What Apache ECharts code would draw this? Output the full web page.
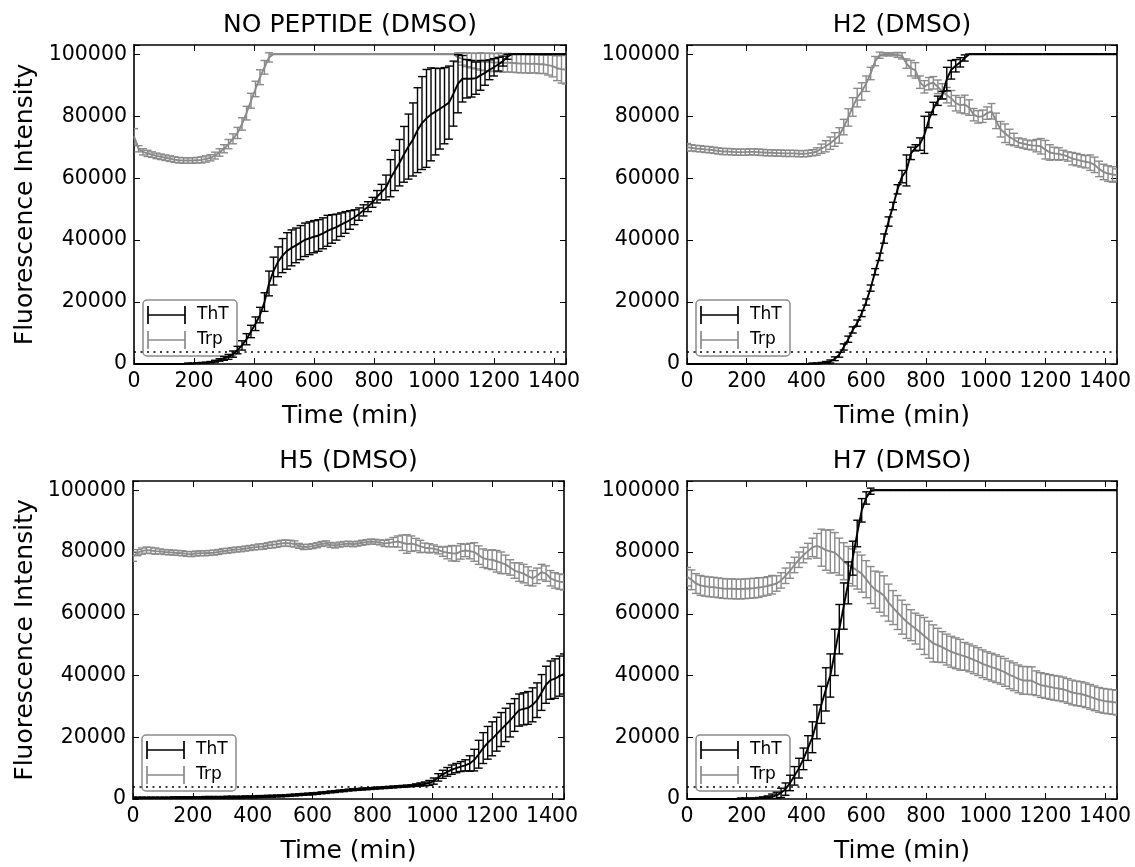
<!DOCTYPE html>
<html><head><meta charset="utf-8">
<script src="https://cdn.jsdelivr.net/npm/echarts@6/dist/echarts.min.js"></script>
<style>html,body{margin:0;padding:0;background:#fff}#c{width:1135px;height:867px}</style>
</head><body><div id="c"></div>
<script>
// ---- data (fluorescence values in thousands, time in minutes) ----
const time = [0,15,30,45,60,75,90,105,120,135,150,165,
180,195,210,225,240,255,270,285,300,315,330,345,
360,375,390,405,420,435,450,465,480,495,510,525,
540,555,570,585,600,615,630,645,660,675,690,705,
720,735,750,765,780,795,810,825,840,855,870,885,
900,915,930,945,960,975,990,1005,1020,1035,1050,1065,
1080,1095,1110,1125,1140,1155,1170,1185,1200,1215,1230,1245,
1260,1275,1290,1305,1320,1335,1350,1365,1380,1395,1410,1425,1440];

const titles = ['NO PEPTIDE (DMSO)','H2 (DMSO)','H5 (DMSO)','H7 (DMSO)'];
const seriesNames = ['ThT','Trp'];
const threshold = 4; // dotted reference level (thousands)
const xTicks = [0,200,400,600,800,1000,1200,1400];
const yTicks = [0,20000,40000,60000,80000,100000];

// Panel 1: NO PEPTIDE
const p1ThT = [0,0,0,0,0,0,0,0,0,0,0,0,
0.1,0.1,0.2,0.3,0.4,0.6,0.9,1.3,1.8,2.3,3.2,4.5,
6,8,10.5,13,15.8,20,26,30,33,35,36.5,37.5,
38.3,39.2,40.1,40.6,41.1,41.5,42.2,43,43.6,44.2,45,45.7,
46.5,47.4,48.4,49.6,50.8,52.2,54,55.5,57,60,62.5,65,
67.7,70.2,72.5,75.5,77.8,79.3,80.6,81.5,82.4,83.4,84.4,87.3,
90.5,92.1,92.1,92.1,92.3,93.2,94,95,95.8,96.8,97.8,99.2,
100,100,100,100,100,100,100,100,100,100,100,100,100];
const p1ThTErr = [0.1,0.1,0.1,0.1,0.1,0.1,0.1,0.1,0.1,0.1,0.1,0.1,
0.2,0.2,0.2,0.2,0.2,0.2,0.3,0.4,0.6,0.8,1,1.2,
1.5,1.8,2,2.2,2.5,3,4,4.5,4.8,5.5,5.9,5.8,
5.6,5.5,5.4,5.3,5.2,5.1,5,5,4.6,4.2,3.8,3.5,
3,2.4,2,1.8,1.6,1.6,2,2.5,4,6,6.5,7.5,
9,10.5,11.8,13.7,15,15.8,15,14,13,12.3,11.8,10.5,
9.4,7.5,6.2,5.9,5.2,4.8,4,3.2,2.8,2.2,1.6,0.8,
0,0,0,0,0,0,0,0,0,0,0,0,0];
const p1Trp = [73.5,69.5,68.5,68,67.6,67.2,66.9,66.6,66.3,66,65.8,65.7,
65.7,65.7,65.8,65.9,66.2,66.6,67.3,68.3,69.5,71,72.7,74.6,
77.5,81,85,88.8,92.6,95.8,99,100,100,100,100,100,
100,100,100,100,100,100,100,100,100,100,100,100,
100,100,100,100,100,100,100,100,100,100,100,100,
100,100,100,100,100,100,100,100,100,100,100,100,
99,98.5,98.2,98,97.8,97.7,97.5,97.5,97.3,97.4,97.2,97.3,
97.2,97.1,97,97,96.9,97,96.8,96.8,96.5,96.2,95.5,95.2,95];
const p1TrpErr = [2.5,1,1,1,0.9,0.9,0.9,0.9,0.9,0.9,0.9,0.9,
0.9,0.9,0.9,1,1,1,1.1,1.2,1.3,1.5,1.6,1.8,
2,2.2,2.4,2.5,2.4,2.2,1.5,0,0,0,0,0,
0,0,0,0,0,0,0,0,0,0,0,0,
0,0,0,0,0,0,0,0,0,0,0,0,
0,0,0,0,0,0,0,0,0,0,0,0,
1.5,2,2.2,2.4,2.5,2.8,2.8,2.9,2.9,3,3,3,
3,3,3,3,3,3,3,3,3.2,3.5,4,4.5,4.6];

// Panel 2: H2
const p2ThT = [0,0,0,0,0,0,0,0,0,0,0,0,
0,0,0,0,0,0,0,0,0,0,0,0,
0,0,0,0,0.1,0.1,0.2,0.4,0.8,1.7,3,5.5,
8,11,13.2,16.3,20,24.5,29.8,34.6,40.5,46,51,56.4,
60.5,62.5,68,69.8,71,74,78.8,82.5,85,86.8,92,95,
96.3,97.4,98.8,100,100,100,100,100,100,100,100,100,
100,100,100,100,100,100,100,100,100,100,100,100,
100,100,100,100,100,100,100,100,100,100,100,100,100];
const p2ThTErr = [0.1,0.1,0.1,0.1,0.1,0.1,0.1,0.1,0.1,0.1,0.1,0.1,
0.1,0.1,0.1,0.1,0.1,0.1,0.1,0.1,0.1,0.1,0.1,0.1,
0.1,0.1,0.1,0.1,0.2,0.2,0.3,0.4,0.5,0.6,0.8,1,
1,1,1,1,1,1,1,1.2,1.5,1.5,1.2,1.5,
2,5,2,1,2,6,2.5,2,1.5,1.2,3.8,3,
2,1.5,1,0,0,0,0,0,0,0,0,0,
0,0,0,0,0,0,0,0,0,0,0,0,
0,0,0,0,0,0,0,0,0,0,0,0,0];
const p2Trp = [70,69.8,69.6,69.5,69.3,69.2,69,68.8,68.6,68.6,68.5,68.4,
68.4,68.4,68.5,68.5,68.4,68.3,68.2,68.2,68.1,68.1,68,68,
68,67.9,67.9,68,68.2,68.6,69.5,70.3,71.3,72.5,73.8,76.5,
79.6,83,86,88,90.5,93.8,97.8,99.7,100,100,100,99.8,
99.5,97,95.5,94.8,91,89.5,90.5,90.8,89.5,88,86.8,85.8,
84.2,83.6,83.8,82.8,80.5,79.8,80,81,81.6,78.5,75.8,74.5,
73.3,72.5,71.5,71.2,70.8,70.6,70.5,70.3,69.2,68.3,68,67.8,
67.5,67,66.3,66,65.6,65.3,65,64.3,63,62,61.5,61.2,61];
const p2TrpErr = [1.2,1,1,1,1,1,1,1,1,1,1,1,
1,1,1,1,1,1,1,1,1,1,1,1,
1,1,1,1,1,1.2,1.5,1.8,2,2.2,2.5,2.5,
2.8,3,3,2.8,2.5,2,1.5,1,0.5,0.5,0.5,0.8,
1,1.5,2.5,2.5,2,2,2,2,2.2,2.5,2.5,2.5,
2.5,2.5,3,2.5,2,2,2,2,2.5,2.5,2.5,3,
2.5,2,1.5,1.5,1.5,1.5,2,2.5,3,2.5,2,2,
1.5,1.5,2,2,2,2,2.5,2.5,2.5,2.5,2.5,2.5,2];

// Panel 3: H5
const p3ThT = [0.3,0.3,0.3,0.3,0.3,0.3,0.3,0.3,0.3,0.4,0.4,0.4,
0.4,0.4,0.4,0.4,0.5,0.5,0.5,0.5,0.5,0.6,0.6,0.6,
0.6,0.7,0.7,0.7,0.8,0.8,0.9,0.9,1,1,1.1,1.2,
1.3,1.4,1.5,1.6,1.7,1.8,2,2.1,2.3,2.4,2.6,2.7,
2.9,3,3.1,3.2,3.3,3.4,3.5,3.6,3.7,3.8,3.9,4,
4.1,4.2,4.3,4.5,4.7,4.9,5.2,5.8,7,8,8.8,9.5,
10,10.5,10.9,11.5,12.6,14.5,16.5,18.2,19.5,21,22.5,24,
25.5,27.2,28.8,29.2,29.5,30.5,32,34.5,37,38.5,39,39.8,40.5];
const p3ThTErr = [0.3,0.3,0.3,0.3,0.3,0.3,0.3,0.3,0.3,0.3,0.3,0.3,
0.3,0.3,0.3,0.3,0.3,0.3,0.3,0.3,0.3,0.3,0.3,0.3,
0.3,0.3,0.3,0.3,0.3,0.3,0.3,0.3,0.3,0.3,0.3,0.3,
0.3,0.3,0.3,0.3,0.3,0.3,0.3,0.3,0.3,0.3,0.3,0.3,
0.3,0.3,0.3,0.3,0.3,0.3,0.3,0.3,0.3,0.3,0.3,0.3,
0.3,0.3,0.3,0.4,0.5,0.6,0.8,1,1.2,1.3,1.4,1.5,
1.5,1.6,1.8,2.5,3.5,4.5,5,5.3,5.5,5.5,5.5,5.4,
5.4,5.3,5.2,5.2,5.3,5.5,5.6,5.8,6,6.2,6.4,6.5,6.5];
const p3Trp = [78.5,79.8,80.3,80.6,80.5,80.3,80.2,80,79.9,79.8,79.7,79.6,
79.4,79.3,79.5,79.6,79.6,79.7,79.8,80,80.3,80.4,80.6,80.8,
80.9,81.1,81.3,81.5,81.7,81.8,82.1,82.3,82.5,82.8,82.9,82.8,
82.6,82,81.6,81.7,81.9,82.2,82.6,82.8,82.3,82.1,82.4,82.6,
82.7,82.5,82.7,83,83.2,83.4,83.3,83.1,82.8,82.9,83.2,83.4,
83,82.6,82.7,82.4,81.8,81.4,81.2,81.1,80.6,80.1,79.8,79.6,
79.5,80.2,80.5,80.3,80,79,78,77.6,77.5,77,76.5,76,
75,74,73.5,73,72.2,71.5,72.3,73.5,73,71.5,70.8,70.4,70.2];
const p3TrpErr = [1.5,1,1,1,1,1,0.8,0.8,0.8,0.8,0.8,0.8,
0.8,0.8,0.8,0.8,0.8,0.8,0.8,0.8,0.8,0.8,0.8,0.8,
0.8,0.8,0.8,0.8,0.9,0.9,0.9,1,1,1,1,1,
1,0.8,0.8,0.8,0.8,0.8,0.8,0.8,0.8,0.8,0.8,0.8,
0.8,0.8,0.8,0.8,0.8,0.8,0.8,0.8,1,1.2,1.5,1.8,
2.5,3,2.5,2,2,1.5,1.5,1.2,1.2,1.5,2,2.5,
2.5,2.5,2,2.5,3,3,3,3,3.2,3.5,3.5,3,
2.5,2.5,3,3,3,2.5,2.5,2.5,2.5,2.5,2.5,2.5,2.5];

// Panel 4: H7
const p4ThT = [0,0,0,0,0,0,0,0,0,0,0,0,
0.1,0.1,0.1,0.1,0.2,0.3,0.5,0.8,1.2,2,3.2,5.2,
7.5,10,13,16.5,20,25,30.5,35.5,40,47.5,55,62.5,
70,78,86,93.5,97.5,99.7,100,100,100,100,100,100,
100,100,100,100,100,100,100,100,100,100,100,100,
100,100,100,100,100,100,100,100,100,100,100,100,
100,100,100,100,100,100,100,100,100,100,100,100,
100,100,100,100,100,100,100,100,100,100,100,100,100];
const p4ThTErr = [0.1,0.1,0.1,0.1,0.1,0.1,0.1,0.1,0.1,0.1,0.1,0.1,
0.2,0.2,0.2,0.2,0.3,0.4,0.5,0.8,1,1.5,2,2.5,
3,3.2,3.5,4,5,5.5,6,7,7,7.5,8,7.5,
6.8,5.5,4.3,3.8,2,1,0,0,0,0,0,0,
0,0,0,0,0,0,0,0,0,0,0,0,
0,0,0,0,0,0,0,0,0,0,0,0,
0,0,0,0,0,0,0,0,0,0,0,0,
0,0,0,0,0,0,0,0,0,0,0,0,0];
const p4Trp = [72,71,69.8,69.2,68.9,68.7,68.6,68.4,68.2,68.1,68.1,68,
68,68.1,68.2,68.3,68.5,68.7,69,69.4,69.8,70.8,72.3,74,
75.8,77.5,79,80.3,81.5,82,81.4,80.6,80.2,79.8,78.5,77,
75.8,75,74,73,71.2,69.3,67.8,67,65.8,63.6,62,60.4,
58.9,57.5,56.3,55.2,54,52.8,51.6,50.4,49.8,49.2,48.4,47.7,
47.2,46.7,46.2,45.7,45.1,44.5,43.8,43.2,42.7,42.2,41.7,41,
40.2,39.6,38.9,38.4,38.4,38.3,37.5,36.9,36.6,36.3,36,35.8,
35.5,35,34.5,34.2,34,33.6,33.1,32.6,32.1,31.8,31.6,31.4,31.2];
const p4TrpErr = [3,3.2,3.2,3.2,3.2,3.2,3.2,3.2,3.2,3.2,3.2,3.2,
3.2,3.2,3.2,3.2,3.2,3,3,3,2.5,2.5,2.5,2.5,
2.5,2.5,2.5,2.5,3,4,6,6.5,7,6.5,6,6,
6,6,6,6,6,6,6,6.5,6.5,6,5.5,5.5,
5.5,5.5,5,5,5.5,6,6,6,5.5,5,5,5,
5,5,4.5,4.5,4.5,4.5,4.5,4.5,4.5,4.5,4.5,4.5,
4.5,4.5,4.5,4.5,4.5,4.5,4,4,4,4,4,4,
4,4,4,4,4,4,4,4,4,4,4,4,4];

const panels = [
  {tht:p1ThT, thtErr:p1ThTErr, trp:p1Trp, trpErr:p1TrpErr},
  {tht:p2ThT, thtErr:p2ThTErr, trp:p2Trp, trpErr:p2TrpErr},
  {tht:p3ThT, thtErr:p3ThTErr, trp:p3Trp, trpErr:p3TrpErr},
  {tht:p4ThT, thtErr:p4ThTErr, trp:p4Trp, trpErr:p4TrpErr}
];

// ---- layout / style ----
const grids = [
  {left:134, top:45, width:432, height:319},
  {left:687, top:45, width:430, height:319},
  {left:133, top:481, width:431, height:318},
  {left:687, top:481, width:430, height:318}
];
const FONT = 'DejaVu Sans';
const BLACK = '#000000';
const GRAY = '#8a8a8a';
const XMAX = 1440, YMAX = 103000;

function errRender(color) {
  return function (params, api) {
    const x = api.value(0), y = api.value(1), e = api.value(2);
    const lo = api.coord([x, y - e]);
    const hi = api.coord([x, y + e]);
    const cw = 4;
    const st = {stroke: color, lineWidth: 1.4};
    return {type: 'group', children: [
      {type: 'line', shape: {x1: lo[0], y1: lo[1], x2: hi[0], y2: hi[1]}, style: st},
      {type: 'line', shape: {x1: lo[0]-cw, y1: lo[1], x2: lo[0]+cw, y2: lo[1]}, style: st},
      {type: 'line', shape: {x1: hi[0]-cw, y1: hi[1], x2: hi[0]+cw, y2: hi[1]}, style: st}
    ]};
  };
}

const xAxes = [], yAxes = [], series = [], graphics = [];
grids.forEach((g, i) => {
  const tick = {show: true, inside: true, length: 6, lineStyle: {color: BLACK, width: 1}};
  const line = {show: true, onZero: false, lineStyle: {color: BLACK, width: 1.6}};
  xAxes.push({gridIndex: i, type: 'value', position: 'bottom', min: 0, max: XMAX, interval: 200,
    axisLine: line, axisTick: tick, splitLine: {show: false},
    axisLabel: {margin: 7, fontFamily: FONT, fontSize: 20.5, color: BLACK,
      formatter: v => (xTicks.indexOf(v) >= 0 ? String(v) : '')}});
  xAxes.push({gridIndex: i, type: 'value', position: 'top', min: 0, max: XMAX, interval: 200,
    axisLine: line, axisTick: tick, splitLine: {show: false}, axisLabel: {show: false}});
  yAxes.push({gridIndex: i, type: 'value', position: 'left', min: 0, max: YMAX, interval: 20000,
    axisLine: line, axisTick: tick, splitLine: {show: false},
    axisLabel: {margin: 7, fontFamily: FONT, fontSize: 20.5, color: BLACK,
      formatter: v => (yTicks.indexOf(v) >= 0 ? String(v) : '')}});
  yAxes.push({gridIndex: i, type: 'value', position: 'right', min: 0, max: YMAX, interval: 20000,
    axisLine: line, axisTick: tick, splitLine: {show: false}, axisLabel: {show: false}});

  const p = panels[i];
  const trpData = time.map((t, k) => [t, p.trp[k] * 1000, p.trpErr[k] * 1000]);
  const thtData = time.map((t, k) => [t, p.tht[k] * 1000, p.thtErr[k] * 1000]);
  const ax = {xAxisIndex: 2 * i, yAxisIndex: 2 * i};
  series.push(Object.assign({type: 'line', name: 'Trp', data: trpData, symbol: 'none', z: 2,
    lineStyle: {color: GRAY, width: 1.9}, itemStyle: {color: GRAY}, clip: true,
    encode: {x: 0, y: 1}}, ax));
  series.push(Object.assign({type: 'custom', name: 'TrpErr', data: trpData, z: 2, clip: true,
    renderItem: errRender(GRAY), encode: {x: 0, y: 1}}, ax));
  series.push(Object.assign({type: 'line', name: 'ThT', data: thtData, symbol: 'none', z: 3,
    lineStyle: {color: BLACK, width: 1.9}, itemStyle: {color: BLACK}, clip: true,
    encode: {x: 0, y: 1},
    markLine: {silent: true, symbol: ['none', 'none'], label: {show: false},
      lineStyle: {type: [2, 4.5], color: BLACK, width: 1.6}, animation: false,
      data: [{yAxis: threshold * 1000}]}}, ax));
  series.push(Object.assign({type: 'custom', name: 'ThTErr', data: thtData, z: 3, clip: true,
    renderItem: errRender(BLACK), encode: {x: 0, y: 1}}, ax));

  const cx = g.left + g.width / 2;
  const bottom = g.top + g.height;
  // panel title
  graphics.push({type: 'text', x: cx, y: g.top - 20, z: 100,
    style: {text: titles[i], fontFamily: FONT, fontSize: 25, fill: BLACK, align: 'center', verticalAlign: 'middle'}});
  // x axis name
  graphics.push({type: 'text', x: cx, y: bottom + 52, z: 100,
    style: {text: 'Time (min)', fontFamily: FONT, fontSize: 25, fill: BLACK, align: 'center', verticalAlign: 'middle'}});
  // y axis name (left column only)
  if (i % 2 === 0) {
    graphics.push({type: 'text', x: 25, y: g.top + g.height / 2, rotation: Math.PI / 2, z: 100,
      style: {text: 'Fluorescence Intensity', fontFamily: FONT, fontSize: 25, fill: BLACK, align: 'center', verticalAlign: 'middle'}});
  }
  // legend box
  const lx = g.left + 9, ly = bottom - 64;
  const glyph = (yy, col) => [
    {type: 'line', shape: {x1: 5, y1: yy, x2: 42, y2: yy}, style: {stroke: col, lineWidth: 1.7}},
    {type: 'line', shape: {x1: 5, y1: yy - 9, x2: 5, y2: yy + 9}, style: {stroke: col, lineWidth: 1.7}},
    {type: 'line', shape: {x1: 42, y1: yy - 9, x2: 42, y2: yy + 9}, style: {stroke: col, lineWidth: 1.7}}
  ];
  graphics.push({type: 'group', x: lx, y: ly, z: 100, children: [
    {type: 'rect', shape: {x: 0, y: 0, width: 94, height: 56, r: 4},
      style: {fill: 'rgba(255,255,255,0.8)', stroke: '#8c8c8c', lineWidth: 1.5}},
    ...glyph(15, BLACK),
    {type: 'text', x: 54, y: 15, style: {text: seriesNames[0], fontFamily: FONT, fontSize: 17, fill: BLACK, align: 'left', verticalAlign: 'middle'}},
    ...glyph(40, GRAY),
    {type: 'text', x: 54, y: 40, style: {text: seriesNames[1], fontFamily: FONT, fontSize: 17, fill: BLACK, align: 'left', verticalAlign: 'middle'}}
  ]});
});

const chart = echarts.init(document.getElementById('c'), null, {renderer: 'canvas'});
chart.setOption({
  animation: false,
  backgroundColor: '#ffffff',
  textStyle: {fontFamily: FONT},
  grid: grids.map(g => Object.assign({containLabel: false}, g)),
  xAxis: xAxes,
  yAxis: yAxes,
  series: series,
  graphic: graphics
});
</script>
</body></html>
